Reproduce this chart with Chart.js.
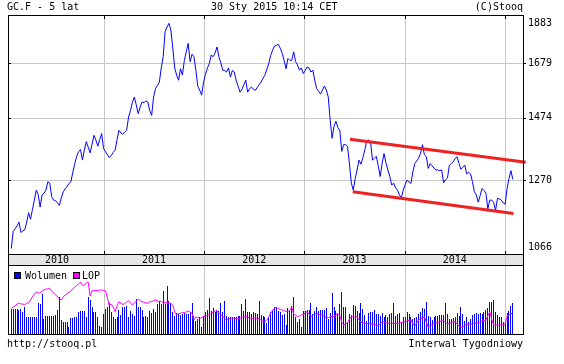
<!DOCTYPE html>
<html><head><meta charset="utf-8">
<script src="https://cdn.jsdelivr.net/npm/chart.js@4/dist/chart.umd.min.js"></script>
<style>
html,body{margin:0;padding:0;background:#fff;}
#wrap{position:relative;width:564px;height:364px;overflow:hidden;}
canvas{position:absolute;left:0;top:0;}
</style></head><body>
<div id="wrap"><canvas id="main" width="564" height="364"></canvas><canvas id="vol" width="564" height="364"></canvas></div>
<script>
// ---- data (weekly, first week ending 2010-01-29) ----
const firstWeek = '2010-01-29';
const closes = [
1080,1125,1132,1140,1150,1122,1126,1129,1150,1176,
1158,1185,1212,1241,1228,1192,1227,1232,1241,1266,
1262,1222,1212,1210,1205,1197,1218,1236,1245,1252,
1261,1266,1295,1322,1345,1360,1367,1333,1365,1393,
1375,1356,1385,1414,1398,1378,1400,1420,1370,1360,
1350,1341,1348,1358,1365,1400,1431,1422,1418,1425,
1431,1477,1500,1530,1549,1520,1489,1512,1531,1528,
1535,1531,1500,1483,1549,1580,1592,1605,1660,1705,
1810,1830,1846,1817,1740,1660,1632,1612,1657,1632,
1690,1725,1760,1685,1715,1705,1651,1589,1575,1556,
1605,1635,1660,1677,1712,1705,1720,1745,1705,1680,
1651,1650,1644,1660,1624,1650,1644,1612,1590,1567,
1577,1595,1612,1567,1580,1586,1578,1574,1585,1595,
1605,1620,1632,1655,1677,1710,1732,1749,1752,1756,
1740,1719,1691,1657,1698,1690,1691,1725,1685,1672,
1651,1660,1638,1650,1664,1660,1644,1651,1610,1580,
1570,1560,1575,1590,1575,1549,1466,1404,1445,1462,
1440,1431,1361,1383,1383,1378,1323,1262,1241,1276,
1302,1333,1320,1340,1365,1395,1398,1393,1333,1339,
1345,1315,1282,1322,1354,1325,1302,1282,1256,1262,
1248,1241,1227,1219,1241,1258,1271,1266,1261,1296,
1322,1330,1339,1355,1383,1350,1344,1307,1322,1315,
1308,1302,1302,1300,1302,1263,1272,1277,1317,1322,
1328,1338,1344,1322,1304,1310,1317,1290,1295,1290,
1266,1236,1227,1206,1225,1246,1240,1232,1187,1212,
1212,1205,1183,1217,1215,1212,1204,1200,1246,1276,
1300,1273];
const volumes = [
25,25,25,25,24,25,22,27,17,17,
17,17,17,17,31,30,40,15,18,18,
18,18,18,19,24,37,14,12,12,12,
7,16,16,17,17,22,23,23,23,17,
37,34,27,22,22,17,8,7,20,25,
27,31,22,17,15,17,24,19,27,27,
28,17,23,20,18,35,27,27,24,17,
18,17,23,21,25,22,30,33,30,43,
30,48,33,31,22,18,21,20,19,20,
21,20,20,22,31,18,13,15,17,7,
18,22,24,36,23,26,22,24,23,31,
22,33,18,17,17,17,17,17,18,18,
30,23,35,22,22,20,22,21,20,33,
19,18,17,11,17,22,24,27,27,23,
22,19,20,9,26,23,28,37,17,12,
15,7,23,23,24,24,31,20,23,27,
23,24,24,24,26,15,21,41,27,23,
20,30,42,27,27,12,20,19,29,28,
23,21,31,25,19,13,21,22,22,24,
20,20,18,21,17,19,17,20,21,31,
18,20,21,12,17,17,22,20,17,15,
16,17,20,22,26,25,32,18,17,14,
17,18,18,19,19,19,31,20,15,15,
16,17,21,18,27,20,13,17,12,15,
19,20,21,20,21,20,22,24,26,32,
32,34,22,19,17,17,12,13,21,23,
28,31];
const lop = [
25.7,27,28,30,31,30,30,29,31,31,
34,37,40,42,41,41,43,44,45,45,
45.7,43,41,39,37.5,35,34,37,39,40.5,
41.5,43,45,47,48.5,50,52,48.5,49,51,
52,38,43.3,43.3,43.5,43.5,44,44,43.5,43.3,
36,28,30,27,22.3,28,32.3,31,29.5,30.5,
32,33.3,31,29,31,33,34.7,33.5,32.3,31.5,
31,30.7,32.3,32.3,33.5,34,33,32.3,32.5,31.5,
31.3,31.5,31.3,30.5,29,22,19.3,20.5,20.7,21.3,
21.5,22,23,22,20.7,14,17,16.5,15.7,16.5,
17.3,18,18.5,19.5,20.5,22,23,23,20.5,19,
17.5,15.7,14,15,15.7,16,15.7,15.5,15.7,15.7,
16.5,17.5,18,17,16,15.7,15.7,16,15.7,15,
14,12.7,12.3,14,17,21,23.3,26,26.5,25.5,
24.5,24,23.5,22.5,22.5,24,27,20,18.5,17.5,
18,19,19.5,21,22.3,20,17.5,18.5,20.7,20.5,
19.5,19,19,17,16,16.5,17,17.7,17.3,19,
20.5,18.5,12,9,10,11,15,17.3,17.3,16.5,
17.3,14,12,11.3,11,10.7,10.5,10,10,9.5,
9,8,10,12,12.3,11.5,10.7,10.7,10.7,10.7,
10.7,10.7,11,11.5,12,12.3,13,13.7,14,10,
8,11,14,15.5,15.7,17.3,12,7,8,9.5,
10.5,10.7,11.5,12.5,13.3,13,11.5,10,10.5,11.5,
12.3,12.3,10,8,7,7.3,8.5,9.5,10,10,
10,10.5,11,11.3,12,13,13.5,14,18,22.3,
15,9,9,9,9,9,9.3,10,17.3,19.5,
20.7,20];
const priceTicks = [1066, 1270, 1474, 1679, 1883];
const priceGrid = [1270, 1474, 1679];
const yearLabels = ['2010', '2011', '2012', '2013', '2014'];
const yearBoundaries = [2011, 2012, 2013, 2014, 2015];
const axisDates = ['2010-01-17', '2015-03-08'];
const upperChannelDates = ['2013-06-16', '2015-03-18'];
const upperChannelValues = [1401, 1326];
const lowerChannelDates = ['2013-06-26', '2015-02-01'];
const lowerChannelValues = [1236, 1174];
const volMax = 68;

// ---- helpers ----
function decYear(ms){const y=new Date(ms).getUTCFullYear();const s=Date.UTC(y,0,1),e=Date.UTC(y+1,0,1);return y+(ms-s)/(e-s);}
function parseD(s){const p=s.split('-').map(Number);return Date.UTC(p[0],p[1]-1,p[2]);}
const t0 = parseD(firstWeek);
const weekX = closes.map((_,i)=>decYear(t0 + i*7*86400000));
const xMin = decYear(parseD(axisDates[0])), xMax = decYear(parseD(axisDates[1]));
const FONT = '10px "DejaVu Sans Mono", "Liberation Mono", monospace';

const mainPlugin = {
  id:'mainDeco',
  beforeDatasetsDraw(chart){
    const ctx=chart.ctx, ca=chart.chartArea, xs=chart.scales.x, ys=chart.scales.y;
    ctx.save(); ctx.strokeStyle='#c8c8c8'; ctx.lineWidth=1;
    ctx.beginPath();
    yearBoundaries.forEach(yb=>{const X=Math.round(xs.getPixelForValue(yb))+0.5;
      ctx.moveTo(X,ca.top); ctx.lineTo(X,ca.bottom);
      ctx.moveTo(X,266); ctx.lineTo(X,334);});
    priceGrid.forEach(v=>{const Y=Math.round(ys.getPixelForValue(v))+0.5; ctx.moveTo(ca.left,Y); ctx.lineTo(ca.right,Y);});
    ctx.stroke(); ctx.restore();
  },
  afterDatasetsDraw(chart){
    const ctx=chart.ctx, ca=chart.chartArea, xs=chart.scales.x, ys=chart.scales.y;
    ctx.save();
    const L=Math.round(ca.left), R=Math.round(ca.right), T=Math.round(ca.top), B=Math.round(ca.bottom);
    // year band
    ctx.fillStyle='#e6e6e6'; ctx.fillRect(L,B,R-L,266-B);
    ctx.strokeStyle='#c8c8c8'; ctx.beginPath();
    yearBoundaries.forEach(yb=>{const X=Math.round(xs.getPixelForValue(yb))+0.5; ctx.moveTo(X,B); ctx.lineTo(X,266);});
    ctx.stroke();
    ctx.strokeStyle='#000'; ctx.lineWidth=1;
    ctx.strokeRect(L+0.5,T+0.5,R-L,B-T);
    ctx.strokeRect(L+0.5,B+0.5,R-L,266-B-1);
    ctx.strokeRect(L+0.5,265.5,R-L,69);
    // ticks
    ctx.beginPath();
    yearBoundaries.forEach(yb=>{const X=Math.round(xs.getPixelForValue(yb))+0.5;
      ctx.moveTo(X,T); ctx.lineTo(X,T+4); ctx.moveTo(X,B-3); ctx.lineTo(X,B);});
    priceGrid.forEach(v=>{const Y=Math.round(ys.getPixelForValue(v))+0.5;
      ctx.moveTo(R,Y); ctx.lineTo(R+3,Y); ctx.moveTo(L,Y); ctx.lineTo(L+3,Y);});
    ctx.stroke();
    // texts
    ctx.fillStyle='#000'; ctx.font=FONT; ctx.textBaseline='middle';
    ctx.textAlign='left';
    priceTicks.forEach(v=>{let Y=ys.getPixelForValue(v); Y=Math.min(Math.max(Y,T+8),B-6.5); ctx.fillText(String(v),R+5,Y);});
    ctx.textAlign='center';
    const edges=[xMin].concat(yearBoundaries);
    yearLabels.forEach((lab,i)=>{const a=xs.getPixelForValue(edges[i]), b=Math.min(xs.getPixelForValue(edges[i+1]),R);
      ctx.fillText(lab,(a+b)/2+(i===0?1:0),260.5);});
    ctx.textAlign='left'; ctx.fillText('GC.F - 5 lat',7,7.5);
    ctx.fillText('30 Sty 2015 10:14 CET',211,7.5);
    ctx.textAlign='right'; ctx.fillText('(C)Stooq',523,7.5);
    ctx.textAlign='left'; ctx.fillText('http://stooq.pl',7,344.5);
    ctx.textAlign='right'; ctx.fillText('Interwal Tygodniowy',523,344.5);
    ctx.restore();
  }
};

new Chart(document.getElementById('main'),{
  type:'line',
  data:{datasets:[
    {data:closes.map((v,i)=>({x:weekX[i],y:v})),borderColor:'#0000ff',borderWidth:1,pointRadius:0,tension:0,order:1},
    {data:upperChannelDates.map((d,i)=>({x:decYear(parseD(d)),y:upperChannelValues[i]})),borderColor:'#ee2222',borderWidth:3,pointRadius:0,borderCapStyle:'butt',clip:false,order:0},
    {data:lowerChannelDates.map((d,i)=>({x:decYear(parseD(d)),y:lowerChannelValues[i]})),borderColor:'#ee2222',borderWidth:3,pointRadius:0,borderCapStyle:'butt',clip:false,order:0}
  ]},
  options:{responsive:false,animation:false,events:[],
    layout:{padding:{left:8,top:15,right:41,bottom:110}},
    plugins:{legend:{display:false},tooltip:{enabled:false}},
    scales:{x:{type:'linear',min:xMin,max:xMax,display:false},
            y:{type:'logarithmic',min:1066,max:1883,display:false}}},
  plugins:[mainPlugin]
});

const volPlugin = {
  id:'volDeco',
  beforeDatasetsDraw(chart){
    // snap 1px bars onto whole pixels so they stay crisp
    chart.getDatasetMeta(1).data.forEach(el=>{el.x=Math.floor(el.x)+0.5;});
  },
  afterDraw(chart){
    const ctx=chart.ctx; ctx.save();
    ctx.font=FONT; ctx.textBaseline='middle'; ctx.textAlign='left';
    ctx.fillStyle='#0000ff'; ctx.fillRect(14,272,7,7); ctx.strokeStyle='#000'; ctx.strokeRect(14.5,272.5,6,6);
    ctx.fillStyle='#000'; ctx.fillText('Wolumen',25,276);
    ctx.fillStyle='#ff00ff'; ctx.fillRect(73,272,7,7); ctx.strokeRect(73.5,272.5,6,6);
    ctx.fillStyle='#000'; ctx.fillText('LOP',82,276);
    ctx.restore();
  }
};

new Chart(document.getElementById('vol'),{
  type:'bar',
  data:{datasets:[
    {type:'line',label:'LOP',data:lop.map((v,i)=>({x:weekX[i],y:v})),borderColor:'#ff00ff',borderWidth:1,pointRadius:0,tension:0,order:0},
    {type:'bar',label:'Wolumen',data:volumes.map((v,i)=>({x:weekX[i],y:v})),backgroundColor:'#0000ff',borderWidth:0,barThickness:1,inflateAmount:0,order:1}
  ]},
  options:{responsive:false,animation:false,events:[],
    layout:{padding:{left:8,top:266,right:41,bottom:30}},
    plugins:{legend:{display:false},tooltip:{enabled:false}},
    scales:{x:{type:'linear',min:xMin,max:xMax,offset:false,display:false},
            y:{min:0,max:volMax,display:false}}},
  plugins:[volPlugin]
});
</script>
</body></html>
